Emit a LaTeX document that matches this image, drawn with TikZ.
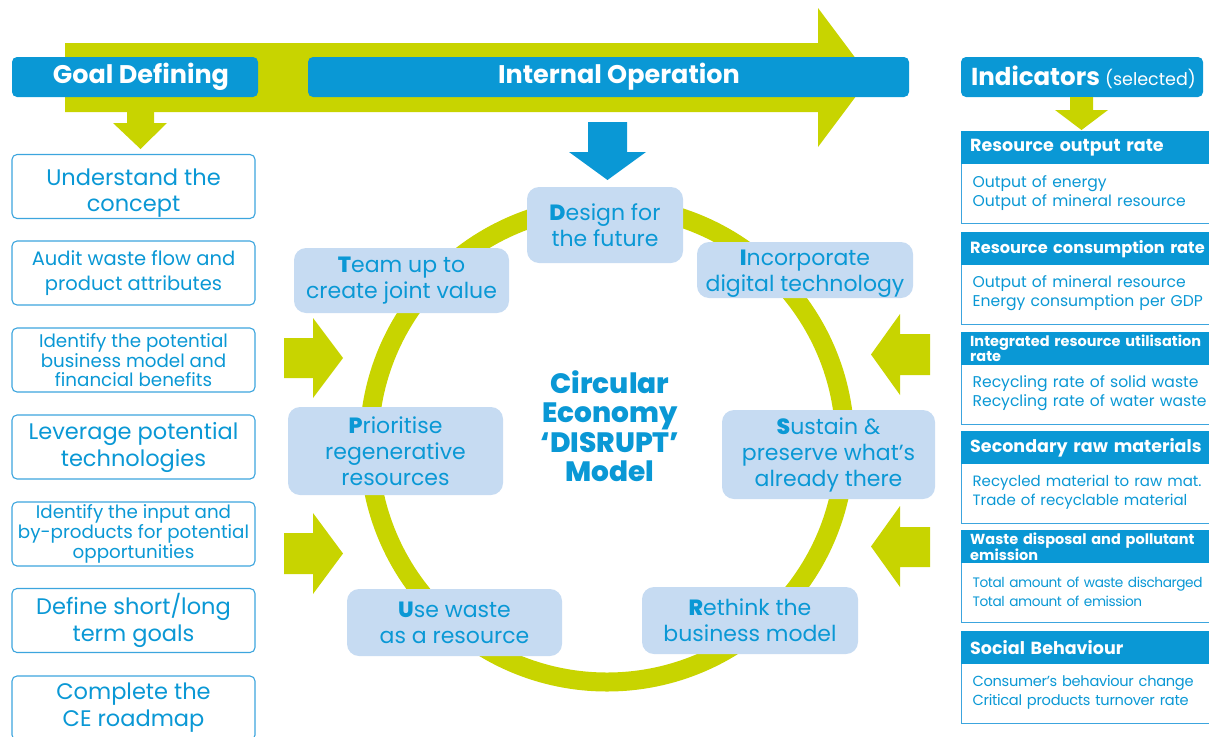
\documentclass[tikz,border=0pt]{standalone}
\usepackage{fontspec}
\setmainfont{Poppins}
\IfFontExistsTF{Poppins ExtraBold}{\newfontfamily\heavyfont{Poppins ExtraBold}}{\newfontfamily\heavyfont{Poppins}[UprightFont=*-Bold]}
\usepackage{xcolor}
\definecolor{lime}{RGB}{200,212,0}
\definecolor{ceblue}{RGB}{10,152,213}
\definecolor{paleblue}{RGB}{198,219,242}
\definecolor{edgeblue}{RGB}{60,165,222}
\newcommand{\fs}[2]{\fontsize{#1}{#2}\selectfont}
\newcommand{\ini}[1]{{\heavyfont #1}}
\tikzset{
    headbar/.style={fill=ceblue,rounded corners=5pt,text=white,font=\bfseries\fs{25.5}{30},inner sep=0pt,minimum height=40pt},
    goalbox/.style={draw=edgeblue,line width=1.1pt,rounded corners=5pt,fill=white,text=ceblue,align=center,minimum width=243pt,minimum height=64pt,inner sep=0pt},
    disrupt/.style={fill=paleblue,rounded corners=12pt,text=ceblue,align=center,inner sep=0pt,font=\fs{22}{26}},
    indhead/.style={fill=ceblue,text=white,anchor=north west,minimum height=33pt,inner xsep=9pt,inner ysep=0pt,align=left,text width=300pt,font=\bfseries\fs{17.5}{20}},
    indbody/.style={draw=edgeblue,line width=1.2pt,fill=white,text=ceblue,anchor=north west,minimum height=62pt,inner xsep=11pt,inner ysep=0pt,align=left,text width=300pt,font=\fs{15.6}{19}},
}
\begin{document}
\begin{tikzpicture}[x=1pt,y=-1pt]
        \useasboundingbox (0,0) rectangle (1209,736);
        % big process arrow
        \fill[lime] (65,43)--(818,43)--(818,8)--(870,77.5)--(818,147)--(818,112)--(65,112)--cycle;
        \node[headbar,minimum width=246pt] (goal) at (135,77) {\hspace*{12pt}Goal Defining};
        \node[headbar,minimum width=601pt] (internal) at (608.5,77) {\hspace*{21pt}Internal Operation};
        \node[headbar,minimum width=242pt,font=\bfseries\fs{24.5}{30}] (indic) at (1082,77) {\hspace*{3pt}Indicators {\mdseries\fs{17.5}{22}(selected)}};
        % small arrows
        \fill[lime] (127,100)--(154,100)--(154,123)--(167,123)--(140.5,149)--(113,123)--(127,123)--cycle;
        \fill[lime] (1070,97)--(1093,97)--(1093,110)--(1108,110)--(1081.5,130)--(1055,110)--(1070,110)--cycle;
        \fill[ceblue] (588,122)--(627,122)--(627,152)--(646,152)--(607.5,180)--(569,152)--(588,152)--cycle;
        \fill[lime] (284,338)--(313,338)--(313,318)--(343,358)--(313,398)--(313,378)--(284,378)--cycle;
        \fill[lime] (284,533)--(313,533)--(313,513)--(343,553.5)--(313,594)--(313,574)--(284,574)--cycle;
        \fill[lime] (930,334)--(900,334)--(900,314)--(871,354.5)--(900,395)--(900,375)--(930,375)--cycle;
        \fill[lime] (930,527)--(900,527)--(900,506)--(871,546.5)--(900,587)--(900,567)--(930,567)--cycle;
        % goal defining steps
        \node[goalbox,font=\fs{22.5}{26}] (g1) at (133.5,186.5) {\rule{0pt}{30pt}Understand the\\concept};
        \node[goalbox,font=\fs{19.5}{25}] (g2) at (133.5,273) {Audit waste flow and\\product attributes};
        \node[goalbox,font=\fs{18.3}{18.5}] (g3) at (133.5,360) {Identify the potential\\business model and\\financial benefits};
        \node[goalbox,font=\fs{22.5}{27}] (g4) at (133.5,447) {Leverage potential\\technologies};
        \node[goalbox,font=\fs{18.3}{18.5}] (g5) at (133.5,534) {Identify the input and\\by-products for potential\\opportunities};
        \node[goalbox,font=\fs{22.5}{27}] (g6) at (133.5,620.5) {Define short/long\\term goals};
        \node[goalbox,font=\fs{22.5}{27}] (g7) at (133.5,708) {Complete the\\CE roadmap};
        % DISRUPT ring
        \draw[lime,line width=19pt] (607,444) circle [radius=238];
        \node[disrupt,minimum width=156pt,minimum height=76pt] (design) at (605,225) {\ini{D}esign for\\the future};
        \node[disrupt,minimum width=216pt,minimum height=56pt] (incorp) at (805,270) {\rule{0pt}{22pt}\ini{I}ncorporate\\digital technology};
        \node[disrupt,minimum width=215pt,minimum height=65pt] (team) at (401.5,280.5) {\ini{T}eam up to\\create joint value};
        \node[disrupt,minimum width=215pt,minimum height=88pt] (prior) at (395.5,451) {\ini{P}rioritise\\regenerative\\resources};
        \node[disrupt,minimum width=213pt,minimum height=89pt] (sustain) at (828.5,454.5) {\ini{S}ustain \&\\preserve what’s\\already there};
        \node[disrupt,minimum width=215pt,minimum height=67pt] (usew) at (454.5,622.5) {\ini{U}se waste\\as a resource};
        \node[disrupt,minimum width=216pt,minimum height=67pt] (rethink) at (750,620.5) {\ini{R}ethink the\\business model};
        \node[text=ceblue,align=center,font=\heavyfont\fs{28}{29.5}] (model) at (610,426) {Circular\\Economy\\‘DISRUPT’\\Model};
        % indicators
        \node[indbody] (b1) at (961,161) {Output of energy\\Output of mineral resource};
        \node[indhead] (h1) at (961,131) {Resource output rate};
        \node[indbody] (b2) at (961,262) {Output of mineral resource\\Energy consumption per GDP};
        \node[indhead,font=\bfseries\fs{16.2}{20}] (h2) at (961,232) {Resource consumption rate};
        \node[indbody] (b3) at (961,362) {Recycling rate of solid waste\\Recycling rate of water waste};
        \node[indhead,font=\bfseries\fs{14.5}{13.5}] (h3) at (961,332) {Integrated resource utilisation\\rate};
        \node[indbody,font=\fs{15}{19}] (b4) at (961,461) {Recycled material to raw mat.\\Trade of recyclable material};
        \node[indhead] (h4) at (961,431) {Secondary raw materials};
        \node[indbody,font=\fs{13.7}{19}\addfontfeatures{LetterSpace=-3}] (b5) at (961,560) {Total amount of waste discharged\\Total amount of emission};
        \node[indhead,font=\bfseries\fs{14.5}{13.5}] (h5) at (961,530) {Waste disposal and pollutant\\emission};
        \node[indbody,font=\fs{14.6}{19}\addfontfeatures{LetterSpace=-2}] (b6) at (961,661) {Consumer’s behaviour change\\Critical products turnover rate};
        \node[indhead] (h6) at (961,631) {Social Behaviour};
\end{tikzpicture}
\end{document}
